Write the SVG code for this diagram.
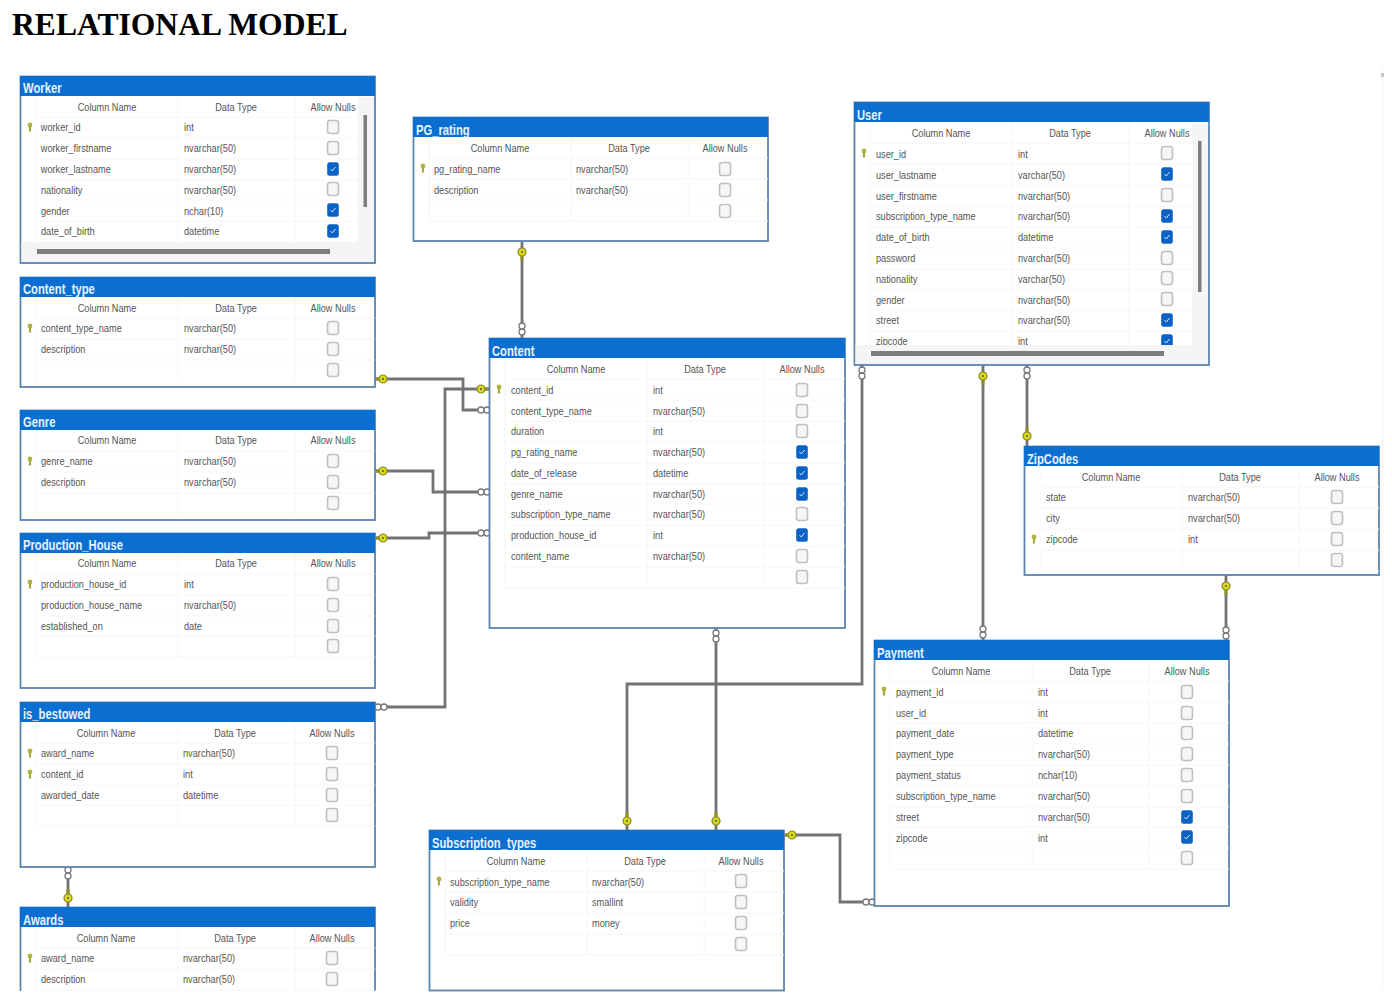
<svg xmlns="http://www.w3.org/2000/svg" width="1392" height="1008" viewBox="0 0 1392 1008">
<style>
text{font-family:"Liberation Sans",Arial,sans-serif;font-size:11.5px;fill:#555;transform-box:fill-box;transform-origin:0 50%;transform:scaleX(.8)}
.ttl{font-family:"Liberation Serif",serif;font-size:31.6px;font-weight:bold;fill:#000;transform:none}
.h{font-size:15px;font-weight:bold;fill:#e6f2ff;transform:scaleX(.75)}
.m{text-anchor:middle;transform-origin:50% 50%}
.box{fill:#fff;stroke:#5a86ad;stroke-width:1.8}
.bar{fill:#0a6fd0}
.g{stroke:#f6f6f6;stroke-width:1;fill:none}
.c{fill:none;stroke:#737373;stroke-width:2.8}
.ck{fill:#f6f6f6;stroke:#c0c0c0;stroke-width:1.6}
.sb{fill:#7d7d7d}
.tr{fill:#f5f5f5}
.o{fill:#fff;stroke:#777;stroke-width:1.3}
.ky{fill:#d8d81c;stroke:#8a8a20;stroke-width:1.2}
</style>
<defs>
<g id="off"><rect class="ck" x="-5.5" y="-6.5" width="11" height="13" rx="2.5"/></g>
<g id="on"><rect x="-5.8" y="-6.8" width="11.6" height="13.6" rx="2.5" fill="#0a62c4"/><path d="M-2.5 0L-.7 2L2.5-2" fill="none" stroke="#cfe4ff" stroke-width="1"/></g>
<g id="key"><ellipse cx="0" cy="-2" rx="2.4" ry="2.4" fill="#b4b43c"/><rect x="-1.1" y="-1" width="2.2" height="5.5" fill="#a8a83a"/></g>
<g id="oo"><circle class="o" cx="0" cy="0" r="3"/><circle class="o" cx="6" cy="0" r="3"/></g>
<g id="keyh"><path d="M0 0H-9" stroke="#8f8f22" stroke-width="3"/><circle class="ky" cx="0" cy="0" r="4"/><circle cx="0" cy="0" r="1" fill="#555"/></g>
<clipPath id="pg"><rect x="0" y="0" width="1392" height="991"/></clipPath>
<clipPath id="uc"><rect x="854" y="102" width="344" height="243"/></clipPath>
</defs>
<rect width="1392" height="1008" fill="#fff"/>
<rect x="1381" y="65" width="3" height="926" fill="#fafafa"/><rect x="1381" y="73" width="3" height="4" fill="#c8c8c8"/>
<text class="ttl" x="12" y="35">RELATIONAL MODEL</text>

<g id="connectors">
<path class="c" d="M522 242V338"/>
<path class="c" d="M375 379H463V410H489"/>
<path class="c" d="M375 471H433V492H489"/>
<path class="c" d="M375 538H429V533H489"/>
<path class="c" d="M375 707H445V389H489"/>
<path class="c" d="M716 628V830"/>
<path class="c" d="M862 365V684H627V830"/>
<path class="c" d="M983 365V640"/>
<path class="c" d="M1027 365V446"/>
<path class="c" d="M1226 575V640"/>
<path class="c" d="M784 835H840V902H874"/>
<path class="c" d="M68 867V907"/>
<use href="#keyh" transform="translate(522 252) rotate(-90)"/>
<use href="#oo" transform="translate(522 326) rotate(90)"/>
<use href="#keyh" transform="translate(383 379)"/>
<use href="#oo" transform="translate(481 410)"/>
<use href="#keyh" transform="translate(383 471)"/>
<use href="#oo" transform="translate(481 492)"/>
<use href="#keyh" transform="translate(383 538)"/>
<use href="#oo" transform="translate(481 533)"/>
<use href="#oo" transform="translate(378 707)"/>
<use href="#keyh" transform="translate(481 389) rotate(180)"/>
<use href="#oo" transform="translate(716 633) rotate(90)"/>
<use href="#keyh" transform="translate(716 821) rotate(90)"/>
<use href="#oo" transform="translate(862 370) rotate(90)"/>
<use href="#keyh" transform="translate(627 821) rotate(90)"/>
<use href="#keyh" transform="translate(983 376) rotate(-90)"/>
<use href="#oo" transform="translate(983 629) rotate(90)"/>
<use href="#oo" transform="translate(1027 370) rotate(90)"/>
<use href="#keyh" transform="translate(1027 436) rotate(90)"/>
<use href="#keyh" transform="translate(1226 586) rotate(-90)"/>
<use href="#oo" transform="translate(1226 630) rotate(90)"/>
<use href="#keyh" transform="translate(792 835)"/>
<use href="#oo" transform="translate(866 902)"/>
<use href="#oo" transform="translate(68 870) rotate(90)"/>
<use href="#keyh" transform="translate(68 898) rotate(90)"/>
</g>

<g id="worker" transform="translate(20 76)">
<rect class="box" x=".5" y=".5" width="354.5" height="186.5"/>
<rect class="tr" x="1.5" y="166" width="352.5" height="20"/><rect class="tr" x="338" y="21" width="16" height="150"/>
<rect class="bar" width="355" height="20"/>
<text class="h" x="3" y="17">Worker</text>
<path class="g" d="M16 21V166M158 21V166M275 21V166M16 41H338M16 62H338M16 83H338M16 104H338M16 124H338M16 145H338"/>
<text class="m" x="87" y="35">Column Name</text><text class="m" x="216" y="35">Data Type</text><text class="m" x="313" y="35">Allow Nulls</text>
<use href="#key" x="10" y="51"/>
<text x="21" y="55">worker_id</text><text x="164" y="55">int</text><use href="#off" x="313" y="51"/>
<text x="21" y="76">worker_firstname</text><text x="164" y="76">nvarchar(50)</text><use href="#off" x="313" y="72"/>
<text x="21" y="97">worker_lastname</text><text x="164" y="97">nvarchar(50)</text><use href="#on" x="313" y="93"/>
<text x="21" y="118">nationality</text><text x="164" y="118">nvarchar(50)</text><use href="#off" x="313" y="113"/>
<text x="21" y="139">gender</text><text x="164" y="139">nchar(10)</text><use href="#on" x="313" y="134"/>
<text x="21" y="159">date_of_birth</text><text x="164" y="159">datetime</text><use href="#on" x="313" y="155"/>
<rect class="sb" x="343.5" y="39" width="3.5" height="92"/><rect class="sb" x="17" y="173" width="293" height="5"/>
</g>

<g id="content_type" transform="translate(20 277)">
<rect class="box" x=".5" y=".5" width="354.5" height="109.5"/><rect class="bar" width="355" height="20"/>
<text class="h" x="3" y="17">Content_type</text>
<path class="g" d="M16 21V104M158 21V104M275 21V104M16 41H355M16 62H355M16 83H355"/>
<text class="m" x="87" y="35">Column Name</text><text class="m" x="216" y="35">Data Type</text><text class="m" x="313" y="35">Allow Nulls</text>
<use href="#key" x="10" y="51"/>
<text x="21" y="55">content_type_name</text><text x="164" y="55">nvarchar(50)</text><use href="#off" x="313" y="51"/>
<text x="21" y="76">description</text><text x="164" y="76">nvarchar(50)</text><use href="#off" x="313" y="72"/>
<use href="#off" x="313" y="93"/>
</g>

<g id="genre" transform="translate(20 410)">
<rect class="box" x=".5" y=".5" width="354.5" height="109.5"/><rect class="bar" width="355" height="20"/>
<text class="h" x="3" y="17">Genre</text>
<path class="g" d="M16 21V104M158 21V104M275 21V104M16 41H355M16 62H355M16 83H355"/>
<text class="m" x="87" y="34">Column Name</text><text class="m" x="216" y="34">Data Type</text><text class="m" x="313" y="34">Allow Nulls</text>
<use href="#key" x="10" y="51"/>
<text x="21" y="55">genre_name</text><text x="164" y="55">nvarchar(50)</text><use href="#off" x="313" y="51"/>
<text x="21" y="76">description</text><text x="164" y="76">nvarchar(50)</text><use href="#off" x="313" y="72"/>
<use href="#off" x="313" y="93"/>
</g>

<g id="production_house" transform="translate(20 533)">
<rect class="box" x=".5" y=".5" width="354.5" height="154.5"/><rect class="bar" width="355" height="20"/>
<text class="h" x="3" y="17">Production_House</text>
<path class="g" d="M16 21V124M158 21V124M275 21V124M16 41H355M16 62H355M16 83H355M16 103H355M16 124H355"/>
<text class="m" x="87" y="34">Column Name</text><text class="m" x="216" y="34">Data Type</text><text class="m" x="313" y="34">Allow Nulls</text>
<use href="#key" x="10" y="51"/>
<text x="21" y="55">production_house_id</text><text x="164" y="55">int</text><use href="#off" x="313" y="51"/>
<text x="21" y="76">production_house_name</text><text x="164" y="76">nvarchar(50)</text><use href="#off" x="313" y="72"/>
<text x="21" y="97">established_on</text><text x="164" y="97">date</text><use href="#off" x="313" y="93"/>
<use href="#off" x="313" y="113"/>
</g>

<g id="is_bestowed" transform="translate(20 702)">
<rect class="box" x=".5" y=".5" width="354.5" height="164.5"/><rect class="bar" width="355" height="20"/>
<text class="h" x="3" y="17">is_bestowed</text>
<path class="g" d="M16 21V124M158 21V124M275 21V124M16 41H355M16 62H355M16 83H355M16 103H355M16 124H355"/>
<text class="m" x="86" y="35">Column Name</text><text class="m" x="215" y="35">Data Type</text><text class="m" x="312" y="35">Allow Nulls</text>
<use href="#key" x="10" y="51"/>
<use href="#key" x="10" y="72"/>
<text x="21" y="55">award_name</text><text x="163" y="55">nvarchar(50)</text><use href="#off" x="312" y="51"/>
<text x="21" y="76">content_id</text><text x="163" y="76">int</text><use href="#off" x="312" y="72"/>
<text x="21" y="97">awarded_date</text><text x="163" y="97">datetime</text><use href="#off" x="312" y="93"/>
<use href="#off" x="312" y="113"/>
</g>

<g id="awards" clip-path="url(#pg)">
<g transform="translate(20 907)">
<rect class="box" x=".5" y=".5" width="354.5" height="130"/><rect class="bar" width="355" height="20"/>
<text class="h" x="3" y="18">Awards</text>
<path class="g" d="M16 21V104M158 21V104M275 21V104M16 41H355M16 62H355M16 83H355"/>
<text class="m" x="86" y="35">Column Name</text><text class="m" x="215" y="35">Data Type</text><text class="m" x="312" y="35">Allow Nulls</text>
<use href="#key" x="10" y="51"/>
<text x="21" y="55">award_name</text><text x="163" y="55">nvarchar(50)</text><use href="#off" x="312" y="51"/>
<text x="21" y="76">description</text><text x="163" y="76">nvarchar(50)</text><use href="#off" x="312" y="72"/>
</g>
</g>

<g id="pg_rating" transform="translate(413 117)">
<rect class="box" x=".5" y=".5" width="354.5" height="123.5"/><rect class="bar" width="355" height="20"/>
<text class="h" x="3" y="18">PG_rating</text>
<path class="g" d="M16 21V104M158 21V104M275 21V104M16 41H355M16 62H355M16 83H355M16 104H355"/>
<text class="m" x="87" y="35">Column Name</text><text class="m" x="216" y="35">Data Type</text><text class="m" x="312" y="35">Allow Nulls</text>
<use href="#key" x="10" y="51"/>
<text x="21" y="56">pg_rating_name</text><text x="163" y="56">nvarchar(50)</text><use href="#off" x="312" y="52"/>
<text x="21" y="77">description</text><text x="163" y="77">nvarchar(50)</text><use href="#off" x="312" y="73"/>
<use href="#off" x="312" y="94"/>
</g>

<g id="content" transform="translate(489 338)">
<rect class="box" x=".5" y=".5" width="355.5" height="289.5"/><rect class="bar" width="356" height="20"/>
<text class="h" x="3" y="18">Content</text>
<path class="g" d="M16 21V250M158 21V250M275 21V250M16 41H356M16 62H356M16 83H356M16 104H356M16 125H356M16 146H356M16 166H356M16 187H356M16 208H356M16 229H356M16 250H356"/>
<text class="m" x="87" y="35">Column Name</text><text class="m" x="216" y="35">Data Type</text><text class="m" x="313" y="35">Allow Nulls</text>
<use href="#key" x="10" y="51"/>
<text x="22" y="56">content_id</text><text x="164" y="56">int</text><use href="#off" x="313" y="52"/>
<text x="22" y="77">content_type_name</text><text x="164" y="77">nvarchar(50)</text><use href="#off" x="313" y="73"/>
<text x="22" y="97">duration</text><text x="164" y="97">int</text><use href="#off" x="313" y="93"/>
<text x="22" y="118">pg_rating_name</text><text x="164" y="118">nvarchar(50)</text><use href="#on" x="313" y="114"/>
<text x="22" y="139">date_of_release</text><text x="164" y="139">datetime</text><use href="#on" x="313" y="135"/>
<text x="22" y="160">genre_name</text><text x="164" y="160">nvarchar(50)</text><use href="#on" x="313" y="156"/>
<text x="22" y="180">subscription_type_name</text><text x="164" y="180">nvarchar(50)</text><use href="#off" x="313" y="176"/>
<text x="22" y="201">production_house_id</text><text x="164" y="201">int</text><use href="#on" x="313" y="197"/>
<text x="22" y="222">content_name</text><text x="164" y="222">nvarchar(50)</text><use href="#off" x="313" y="218"/>
<use href="#off" x="313" y="239"/>
</g>

<g id="user">
<rect class="box" x="854.5" y="102.5" width="354.5" height="262.5"/>
<rect class="tr" x="855.5" y="345" width="352.5" height="19"/><rect class="tr" x="1192" y="123" width="16" height="225"/>
<rect class="bar" x="854" y="102" width="355" height="20"/>
<text class="h" x="857" y="120">User</text>
<g transform="translate(854 102)">
<path class="g" d="M16 21V243M158 21V243M275 21V243M16 41H338M16 62H338M16 83H338M16 104H338M16 125H338M16 146H338M16 167H338M16 187H338M16 208H338M16 229H338"/>
<text class="m" x="87" y="35">Column Name</text><text class="m" x="216" y="35">Data Type</text><text class="m" x="313" y="35">Allow Nulls</text>
<use href="#key" x="10" y="51"/>
<text x="22" y="56">user_id</text><text x="164" y="56">int</text><use href="#off" x="313" y="51"/>
<text x="22" y="77">user_lastname</text><text x="164" y="77">varchar(50)</text><use href="#on" x="313" y="72"/>
<text x="22" y="98">user_firstname</text><text x="164" y="98">nvarchar(50)</text><use href="#off" x="313" y="93"/>
<text x="22" y="118">subscription_type_name</text><text x="164" y="118">nvarchar(50)</text><use href="#on" x="313" y="114"/>
<text x="22" y="139">date_of_birth</text><text x="164" y="139">datetime</text><use href="#on" x="313" y="135"/>
<text x="22" y="160">password</text><text x="164" y="160">nvarchar(50)</text><use href="#off" x="313" y="156"/>
<text x="22" y="181">nationality</text><text x="164" y="181">varchar(50)</text><use href="#off" x="313" y="176"/>
<text x="22" y="202">gender</text><text x="164" y="202">nvarchar(50)</text><use href="#off" x="313" y="197"/>
<text x="22" y="222">street</text><text x="164" y="222">nvarchar(50)</text><use href="#on" x="313" y="218"/>
</g>
<g clip-path="url(#uc)"><g transform="translate(854 102)">
<text x="22" y="243">zipcode</text><text x="164" y="243">int</text><use href="#on" x="313" y="239"/>
</g></g>
<rect class="sb" x="1198" y="141" width="3.5" height="151"/><rect class="sb" x="871" y="351" width="293" height="5"/>
</g>

<g id="zipcodes" transform="translate(1024 446)">
<rect class="box" x=".5" y=".5" width="354.5" height="128.5"/><rect class="bar" width="355" height="20"/>
<text class="h" x="3" y="18">ZipCodes</text>
<path class="g" d="M16 21V125M158 21V125M275 21V125M16 41H355M16 62H355M16 83H355M16 104H355M16 125H355"/>
<text class="m" x="87" y="35">Column Name</text><text class="m" x="216" y="35">Data Type</text><text class="m" x="313" y="35">Allow Nulls</text>
<use href="#key" x="10" y="93"/>
<text x="22" y="55">state</text><text x="164" y="55">nvarchar(50)</text><use href="#off" x="313" y="51"/>
<text x="22" y="76">city</text><text x="164" y="76">nvarchar(50)</text><use href="#off" x="313" y="72"/>
<text x="22" y="97">zipcode</text><text x="164" y="97">int</text><use href="#off" x="313" y="93"/>
<use href="#off" x="313" y="114"/>
</g>

<g id="payment" transform="translate(874 640)">
<rect class="box" x=".5" y=".5" width="354.5" height="265.5"/><rect class="bar" width="355" height="20"/>
<text class="h" x="3" y="18">Payment</text>
<path class="g" d="M16 21V229M158 21V229M275 21V229M16 41H355M16 62H355M16 83H355M16 104H355M16 125H355M16 146H355M16 167H355M16 187H355M16 208H355M16 229H355"/>
<text class="m" x="87" y="35">Column Name</text><text class="m" x="216" y="35">Data Type</text><text class="m" x="313" y="35">Allow Nulls</text>
<use href="#key" x="10" y="51"/>
<text x="22" y="56">payment_id</text><text x="164" y="56">int</text><use href="#off" x="313" y="52"/>
<text x="22" y="77">user_id</text><text x="164" y="77">int</text><use href="#off" x="313" y="73"/>
<text x="22" y="97">payment_date</text><text x="164" y="97">datetime</text><use href="#off" x="313" y="93"/>
<text x="22" y="118">payment_type</text><text x="164" y="118">nvarchar(50)</text><use href="#off" x="313" y="114"/>
<text x="22" y="139">payment_status</text><text x="164" y="139">nchar(10)</text><use href="#off" x="313" y="135"/>
<text x="22" y="160">subscription_type_name</text><text x="164" y="160">nvarchar(50)</text><use href="#off" x="313" y="156"/>
<text x="22" y="181">street</text><text x="164" y="181">nvarchar(50)</text><use href="#on" x="313" y="177"/>
<text x="22" y="202">zipcode</text><text x="164" y="202">int</text><use href="#on" x="313" y="197"/>
<use href="#off" x="313" y="218"/>
</g>

<g id="subscription_types" transform="translate(429 830)">
<rect class="box" x=".5" y=".5" width="354.5" height="160"/><rect class="bar" width="355" height="20"/>
<text class="h" x="3" y="18">Subscription_types</text>
<path class="g" d="M16 21V125M158 21V125M275 21V125M16 41H355M16 62H355M16 83H355M16 104H355M16 125H355"/>
<text class="m" x="87" y="35">Column Name</text><text class="m" x="216" y="35">Data Type</text><text class="m" x="312" y="35">Allow Nulls</text>
<use href="#key" x="10" y="51"/>
<text x="21" y="56">subscription_type_name</text><text x="163" y="56">nvarchar(50)</text><use href="#off" x="312" y="51"/>
<text x="21" y="76">validity</text><text x="163" y="76">smallint</text><use href="#off" x="312" y="72"/>
<text x="21" y="97">price</text><text x="163" y="97">money</text><use href="#off" x="312" y="93"/>
<use href="#off" x="312" y="114"/>
</g>
</svg>
